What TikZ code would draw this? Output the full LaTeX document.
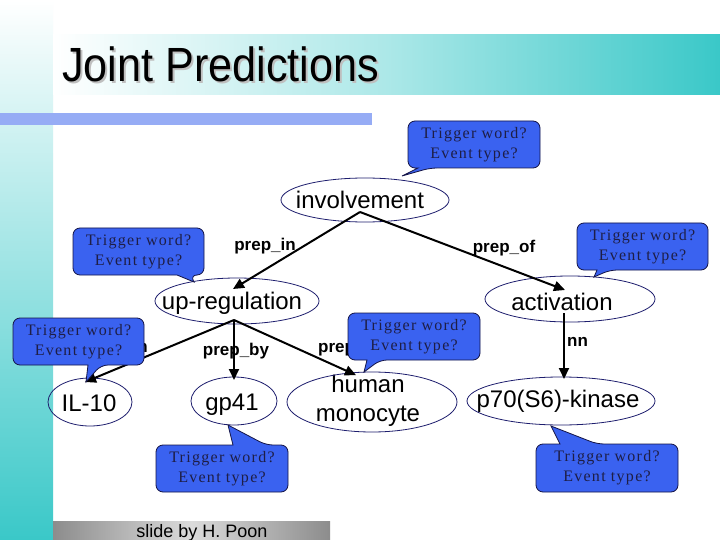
\documentclass[tikz,border=0pt]{standalone}
\usepackage{fontspec}
\setmainfont{Liberation Sans}
\newfontfamily\calloutfont[LetterSpace=8]{Liberation Serif}
\usetikzlibrary{arrows.meta,calc}
\definecolor{tealc}{RGB}{58,200,200}
\definecolor{barblue}{RGB}{150,172,245}
\definecolor{cfill}{RGB}{58,98,240}
\definecolor{cline}{RGB}{20,20,70}
\definecolor{ctext}{RGB}{30,30,70}
\definecolor{eline}{RGB}{30,30,110}
\definecolor{bardark}{gray}{0.55}
\definecolor{barlight}{gray}{0.86}
\tikzset{
 ell/.style={draw=eline, line width=0.8pt},
 tword/.style={font=\fontsize{24}{29}\selectfont, inner sep=0pt, anchor=base},
 elabel/.style={font=\bfseries\fontsize{17}{20}\selectfont, inner sep=0pt, anchor=base},
 arr/.style={line width=2pt, -{Triangle[length=11pt,width=10pt]}},
 callout/.style={fill=cfill, draw=cline, line width=0.8pt},
 ctxt/.style={font=\calloutfont\fontsize{16}{20}\selectfont, text=ctext, align=center, inner sep=0pt},
 ttl/.style={font=\fontsize{48}{50}\selectfont, anchor=base west, xscale=0.9, inner sep=0pt},
}
\begin{document}
\begin{tikzpicture}[x=1pt,y=-1pt]
\useasboundingbox (0,0) rectangle (720,540);
\fill[white] (0,0) rectangle (720,540);
% backgrounds
\shade[top color=white, bottom color=tealc] (0,0) rectangle (53,540);
\shade[left color=white, right color=tealc, middle color=tealc!42] (53,35) rectangle (720,95);
\fill[barblue] (0,113) rectangle (372,125);
\shade[left color=bardark, right color=bardark, middle color=barlight] (53,521) rectangle (330,540);
% title
\node[ttl, text=gray!50] (tshadow) at (64,84) {Joint Predictions};
\node[ttl, text=black] (title) at (62,82) {Joint Predictions};
\node[font=\fontsize{18}{20}\selectfont, anchor=base] (credit) at (202,537) {slide by H. Poon};
% tree nodes
\node[tword] (inv) at (360,208) {involvement};
\node[tword] (upreg) at (232,309) {up-regulation};
\node[tword] (activ) at (562,310) {activation};
\node[tword] (il10) at (89,411) {IL-10};
\node[tword] (gp41) at (232,410) {gp41};
\node[tword, anchor=center, align=center] (hm) at (368,401) {human\\monocyte};
\node[tword] (p70) at (558,407) {p70(S6)-kinase};
\draw[ell] (365,200) ellipse [x radius=84, y radius=22];
\draw[ell] (237,301) ellipse [x radius=82, y radius=23];
\draw[ell] (570,299) ellipse [x radius=85, y radius=23];
\draw[ell] (90,402) ellipse [x radius=42, y radius=24];
\draw[ell] (234,401) ellipse [x radius=43, y radius=24];
\draw[ell] (372,402) ellipse [x radius=85, y radius=30];
\draw[ell] (561,401) ellipse [x radius=94, y radius=24];
% connector ends
\coordinate (inv-o) at ($(inv.base)+(0,4)$);
\coordinate (upreg-in) at ($(upreg.base)+(1,-20)$);
\coordinate (activ-in) at ($(activ.base)+(3,-20)$);
\coordinate (upreg-o) at ($(upreg.base)+(2,11)$);
\coordinate (activ-o) at ($(activ.base)+(2,3)$);
\coordinate (il10-in) at ($(il10.base)+(-4,-29)$);
\coordinate (gp41-in) at ($(gp41.base)+(2,-30)$);
\coordinate (hm-in) at ($(hm.north)+(-12,0)$);
\coordinate (p70-in) at ($(p70.base)+(6,-28)$);
% edges
\draw[arr] (inv-o) -- (upreg-in);
\draw[arr] (inv-o) -- (activ-in);
\draw[arr] (upreg-o) -- (il10-in);
\draw[arr] (upreg-o) -- (gp41-in);
\draw[arr] (upreg-o) -- (hm-in);
\draw[arr] (activ-o) -- (p70-in);
% edge labels
\node[elabel] (l-prepin) at (265,251) {prep\_in};
\node[elabel] (l-prepof) at (504,252) {prep\_of};
\node[elabel] (l-prepby) at (236,355) {prep\_by};
\node[elabel, anchor=base west] (l-prepin2) at (318,352) {prep\_in};
\node[elabel, anchor=base east] (l-nn1) at (148,352) {nn};
\node[elabel, anchor=base west] (l-nn2) at (567,346) {nn};
% callouts
\draw[callout] (418,168) [rounded corners=7pt] -- (408,168) -- (408,121) -- (540,121) -- (540,168) -- (430,168) [sharp corners] -- (402,176) -- cycle;
\node[ctxt] (c1) at (474,144.5) {Trigger word?\\Event type?};
\draw[callout] (177,275) [rounded corners=7pt] -- (73,275) -- (73,228) -- (204,228) -- (204,275) -- (190,275) [sharp corners] -- (194,282) -- cycle;
\node[ctxt] (c2) at (138.5,251.5) {Trigger word?\\Event type?};
\draw[callout] (597,270) [rounded corners=7pt] -- (577,270) -- (577,223) -- (708,223) -- (708,270) -- (610,270) [sharp corners] -- (594,277) -- cycle;
\node[ctxt] (c3) at (642.5,246.5) {Trigger word?\\Event type?};
\draw[callout] (88,365) [rounded corners=7pt] -- (13,365) -- (13,318) -- (144,318) -- (144,365) -- (101,365) [sharp corners] -- (86,382) -- cycle;
\node[ctxt] (c4) at (78.5,341.5) {Trigger word?\\Event type?};
\draw[callout] (367,360) [rounded corners=7pt] -- (348,360) -- (348,313) -- (480,313) -- (480,360) -- (380,360) [sharp corners] -- (364,372) -- cycle;
\node[ctxt] (c5) at (414,336.5) {Trigger word?\\Event type?};
\draw[callout] (233,445) [rounded corners=7pt] -- (156,445) -- (156,492) -- (288,492) -- (288,445) -- (266,445) [sharp corners] -- (228,425) -- cycle;
\node[ctxt] (c6) at (222,468.5) {Trigger word?\\Event type?};
\draw[callout] (560,444) [rounded corners=7pt] -- (536,444) -- (536,492) -- (678,492) -- (678,444) -- (597,444) [sharp corners] -- (551,426) -- cycle;
\node[ctxt] (c7) at (607,468) {Trigger word?\\Event type?};
\end{tikzpicture}
\end{document}
